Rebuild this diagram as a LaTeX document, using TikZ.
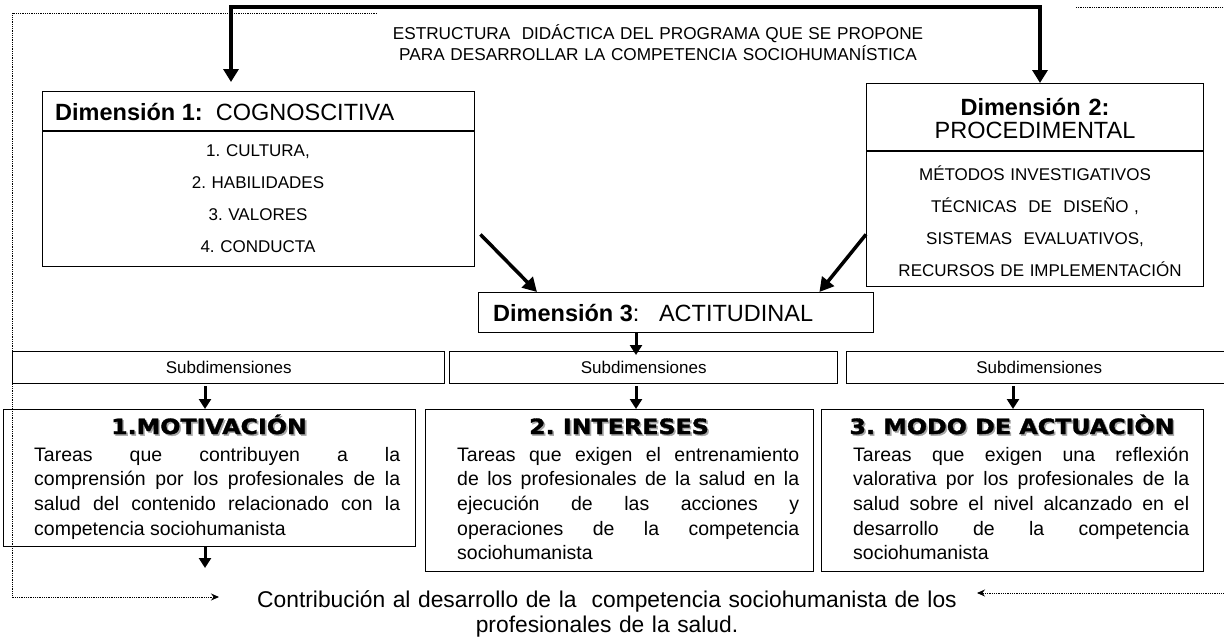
\documentclass[tikz,border=0pt]{standalone}
\usepackage{fontspec}
\setmainfont{Liberation Sans}
\newfontfamily\heavyfont[FakeStretch=1.13, FakeBold=1.6]{DejaVu Sans}
\usetikzlibrary{positioning,arrows.meta}
\frenchspacing
\tolerance=10000
\hbadness=10000
\hyphenpenalty=10000
\newcommand{\shadowtitle}[1]{\makebox[0pt][l]{\hspace{1.6pt}\raisebox{-1.6pt}{\textcolor{black!35}{#1}}}#1}

\begin{document}
\begin{tikzpicture}[
    x=1pt, y=-1pt,
    box/.style={draw, line width=1.4pt, inner sep=0pt, anchor=north west},
    head/.style={font={\fontsize{23.5}{23}\selectfont}, inner sep=0pt},
    item/.style={font={\fontsize{17}{32.3}\selectfont}, inner sep=0pt, align=center, anchor=base},
    task/.style={font={\heavyfont\bfseries\fontsize{21}{21}\selectfont}, inner sep=0pt, anchor=base},
    body/.style={font={\fontsize{19.5}{24.7}\selectfont}, inner sep=0pt, align=justify, anchor=base west},
    bigarrow/.style={line width=4pt, {Triangle[width=15pt,length=13pt]}-{Triangle[width=15pt,length=13pt]}},
    diagarrow/.style={line width=3.5pt, -{Triangle[width=15pt,length=14pt]}},
    downarrow/.style={line width=3pt, -{Triangle[width=12pt,length=10pt]}},
    dotpath/.style={line width=0.9pt, dash pattern=on 0.9pt off 0.9pt, -{Stealth[length=8pt,width=7pt]}},
]
    \useasboundingbox (0,0) rectangle (1224,641);

    \node[font={\fontsize{17.2}{21}\selectfont}, text width=600pt, align=center, anchor=base, inner sep=0pt] (heading) at (658,39) {ESTRUCTURA\ \ DIDÁCTICA DEL PROGRAMA QUE SE PROPONE\\
    PARA DESARROLLAR LA COMPETENCIA SOCIOHUMANÍSTICA};

    \node[box, minimum width=432pt, minimum height=175pt] (dimone) at (42,91) {};
    \draw[line width=1.4pt] ([yshift=-40pt]dimone.north west) -- ([yshift=-40pt]dimone.north east);
    \node[head, anchor=base west] (dimonehead) at (55,120) {\textbf{Dimensión 1:}\ \ COGNOSCITIVA};
    \node[item, text width=300pt] (dimonelist) at (258,156) {1. CULTURA,\\
    2. HABILIDADES\\
    3. VALORES\\
    4. CONDUCTA};

    \node[box, minimum width=337pt, minimum height=203pt] (dimtwo) at (866,83) {};
    \draw[line width=1.4pt] ([yshift=-68pt]dimtwo.north west) -- ([yshift=-68pt]dimtwo.north east);
    \node[head, anchor=base, text width=330pt, align=center] (dimtwohead) at (1035,115) {\textbf{Dimensión 2:}\\
    PROCEDIMENTAL};
    \node[item, text width=330pt] (dimtwolist) at (1035,180) {MÉTODOS INVESTIGATIVOS\\
    TÉCNICAS\ \ DE\ \ DISEÑO ,\\
    SISTEMAS\ \ EVALUATIVOS,\\
    \hspace*{10pt}RECURSOS DE IMPLEMENTACIÓN};

    \node[box, minimum width=395pt, minimum height=40pt] (dimthree) at (478,292) {};
    \node[head, anchor=base west] (dimthreehead) at (493,321) {\textbf{Dimensión 3}:\ \ \ ACTITUDINAL};

    \node[box, minimum width=432pt, minimum height=32pt, font={\fontsize{17}{20}\selectfont}] (subone) at (12,351) {Subdimensiones};
    \node[box, minimum width=388pt, minimum height=32pt, font={\fontsize{17}{20}\selectfont}] (subtwo) at (449,351) {Subdimensiones};
    \node[box, minimum width=385pt, minimum height=32pt, font={\fontsize{17}{20}\selectfont}] (subthree) at (846,351) {Subdimensiones};

    \node[box, minimum width=412pt, minimum height=137pt] (taskone) at (3,409) {};
    \node[task] (taskonetitle) at (209,434) {\shadowtitle{1.MOTIVACIÓN}};
    \node[body, text width=366pt] (taskonetext) at (34,461) {Tareas que contribuyen a la\linebreak
    comprensión por los profesionales de la\linebreak
    salud del contenido relacionado con la\linebreak
    competencia sociohumanista};

    \node[box, minimum width=388pt, minimum height=162pt] (tasktwo) at (425,409) {};
    \node[task] (tasktwotitle) at (619,434) {\shadowtitle{2. INTERESES}};
    \node[body, text width=342pt] (tasktwotext) at (457,461) {Tareas que exigen el entrenamiento\linebreak
    de los profesionales de la salud en la\linebreak
    ejecución de las acciones y\linebreak
    operaciones de la competencia\linebreak
    sociohumanista};

    \node[box, minimum width=382pt, minimum height=162pt] (taskthree) at (821,409) {};
    \node[task] (taskthreetitle) at (1012,434) {\shadowtitle{3. MODO DE ACTUACIÒN}};
    \node[body, text width=336pt] (taskthreetext) at (853,461) {Tareas que exigen una reflexión\linebreak
    valorativa por los profesionales de la\linebreak
    salud sobre el nivel alcanzado en el\linebreak
    desarrollo de la competencia\linebreak
    sociohumanista};

    \node[font={\fontsize{22.8}{25}\selectfont}, text width=740pt, align=center, anchor=base, inner sep=0pt] (contrib) at (607,607) {Contribución al desarrollo de la\ \ competencia sociohumanista de los\\
    profesionales de la salud.};

    \coordinate (topleft) at (231,7);
    \coordinate (topright) at (1040,7);
    \draw[bigarrow, shorten <=9pt] (dimone.north -| topleft) -- (topleft) -- (topright) -- (dimtwo.north -| topright);

    \draw[diagarrow] ([xshift=5pt,yshift=33pt]dimone.south east) -- ([xshift=59pt]dimthree.north west);
    \draw[diagarrow] ([yshift=53pt]dimtwo.south west) -- ([xshift=-55pt]dimthree.north east);

    \coordinate (colone) at (205,0);
    \coordinate (coltwo) at (636,0);
    \coordinate (colthree) at (1013,0);
    \coordinate (oneout) at (205,568);
    \draw[downarrow, shorten >=-4pt] (dimthree.south -| coltwo) -- (subtwo.north -| coltwo);
    \draw[downarrow, shorten <=2pt] (subone.south -| colone) -- (taskone.north -| colone);
    \draw[downarrow, shorten <=2pt] (subtwo.south -| coltwo) -- (tasktwo.north -| coltwo);
    \draw[downarrow, shorten <=2pt] (subthree.south -| colthree) -- (taskthree.north -| colthree);
    \draw[downarrow] (taskone.south -| colone) -- (oneout);

    \coordinate (dotleftstart) at (377,13);
    \coordinate (dotleftcorner) at (12,13);
    \coordinate (dotleftend) at (219,597);
    \draw[dotpath] (dotleftstart) -- (dotleftcorner) |- (dotleftend);
    \coordinate (dotrightstart) at (1076,7);
    \coordinate (dotrightcorner) at (1232,7);
    \coordinate (dotrightend) at (977,593);
    \draw[dotpath] (dotrightstart) -- (dotrightcorner) |- (dotrightend);

\end{tikzpicture}
\end{document}
